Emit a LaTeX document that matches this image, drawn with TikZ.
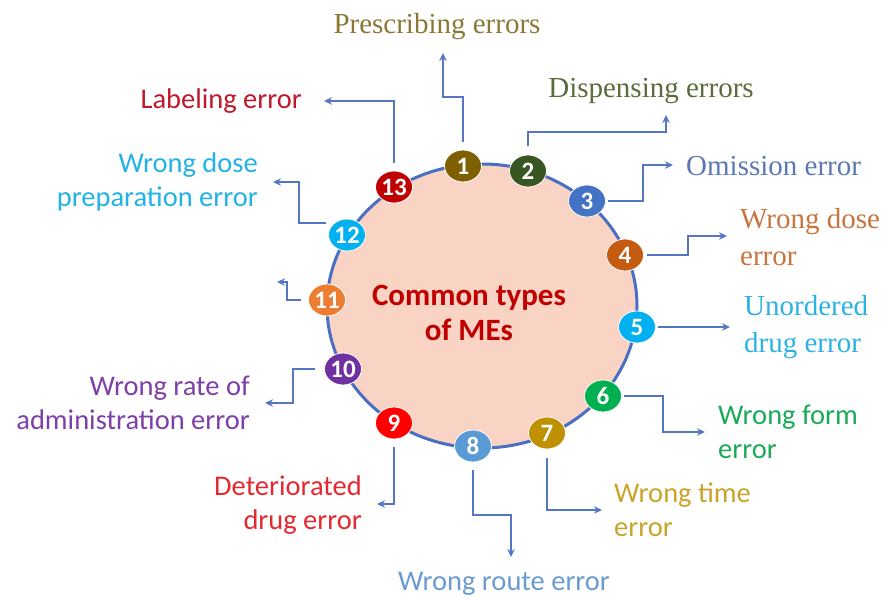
\documentclass[tikz,border=0pt]{standalone}
\usepackage{fontspec}
\setmainfont{Carlito}
\newfontfamily\serifface{Liberation Serif}
\usetikzlibrary{arrows.meta,shapes.geometric}
\definecolor{ringblue}{HTML}{4A6FC2}
\definecolor{lineblue}{HTML}{5576C4}
\definecolor{peach}{HTML}{F9D3C3}
\definecolor{cA}{HTML}{7F6000}
\definecolor{cB}{HTML}{375623}
\definecolor{cC}{HTML}{4472C4}
\definecolor{cD}{HTML}{C55A11}
\definecolor{cE}{HTML}{00B0F0}
\definecolor{cF}{HTML}{00B050}
\definecolor{cG}{HTML}{BF9000}
\definecolor{cH}{HTML}{5B9BD5}
\definecolor{cI}{HTML}{FF0000}
\definecolor{cJ}{HTML}{7030A0}
\definecolor{cK}{HTML}{ED7D31}
\definecolor{cL}{HTML}{00B0F0}
\definecolor{cM}{HTML}{C00000}
\definecolor{tA}{HTML}{8A7834}
\definecolor{tB}{HTML}{5A6B3C}
\definecolor{tC}{HTML}{5B78B2}
\definecolor{tD}{HTML}{C8743E}
\definecolor{tE}{HTML}{2CB2E2}
\definecolor{tF}{HTML}{1AAA58}
\definecolor{tG}{HTML}{C9A428}
\definecolor{tH}{HTML}{6A9BD0}
\definecolor{tI}{HTML}{E52830}
\definecolor{tJ}{HTML}{7E3FA8}
\definecolor{tL}{HTML}{22B2E6}
\definecolor{tM}{HTML}{C0182A}
\definecolor{ctr}{HTML}{C00000}
\begin{document}
\begin{tikzpicture}[x=1pt,y=-1pt,
  badge/.style={ellipse, minimum width=37pt, minimum height=32pt, inner sep=0pt,
    draw=white, line width=0.8pt,
    text=white, font=\fontsize{25}{25}\selectfont\bfseries},
  conn/.style={draw=lineblue, line width=2.1pt, -{Stealth[length=8pt,width=7.5pt]}},
  sanslab/.style={inner sep=0pt, font=\fontsize{28.5}{34}\selectfont},
  seriflab/.style={inner sep=0pt, font=\serifface\fontsize{29}{37}\selectfont},
  rlab/.style={anchor=west, align=left},
  llab/.style={anchor=east, align=right}]
\useasboundingbox (0,0) rectangle (883,598);
\node[ellipse, draw=ringblue, line width=3pt, fill=peach, minimum width=310pt,
  minimum height=284pt, inner sep=0pt] (ring) at (482,306) {};
\node[inner sep=0pt, align=center, text=ctr, font=\fontsize{31}{35}\selectfont\bfseries]
  (centre) at (469,313) {Common types\\of MEs};
% badges
\node[badge, fill=cA] (b1) at (463,166) {1};
\node[badge, fill=cB] (b2) at (528,171) {2};
\node[badge, fill=cC] (b3) at (587,201) {3};
\node[badge, fill=cD] (b4) at (625,255) {4};
\node[badge, fill=cE] (b5) at (637,327) {5};
\node[badge, fill=cF] (b6) at (603,396) {6};
\node[badge, fill=cG] (b7) at (547,433) {7};
\node[badge, fill=cH] (b8) at (473,446) {8};
\node[badge, fill=cI] (b9) at (394,423) {9};
\node[badge, fill=cJ] (b10) at (343,369) {10};
\node[badge, fill=cK] (b11) at (327,300) {11};
\node[badge, fill=cL] (b12) at (347,235) {12};
\node[badge, fill=cM] (b13) at (394,187) {13};
% labels
\node[seriflab, text=tA] (l1) at (437,27) {Prescribing errors};
\node[seriflab, text=tB] (l2) at (651,91) {Dispensing errors};
\node[seriflab, rlab, text=tC] (l3) at (686,166) {Omission error};
\node[seriflab, rlab, text=tD] (l4) at (740,237) {Wrong dose\\error};
\node[seriflab, rlab, text=tE] (l5) at (744,327) {Unordered\\drug error};
\node[sanslab, rlab, text=tF] (l6) at (718,432) {Wrong form\\error};
\node[sanslab, rlab, text=tG] (l7) at (614,510) {Wrong time\\error};
\node[sanslab, text=tH] (l8) at (504,584) {Wrong route error};
\node[sanslab, llab, text=tI] (l9) at (362,505) {Deteriorated\\drug error};
\node[sanslab, llab, text=tJ] (l10) at (250,403) {Wrong rate of\\administration error};
\node[sanslab, llab, text=tL] (l12) at (258,182) {Wrong dose\\preparation error};
\node[sanslab, llab, text=tM] (l13) at (302,101) {Labeling error};
% arrow tips
\coordinate (t1) at (443,53);
\coordinate (t2) at (666,115);
\coordinate (t3) at (673,165);
\coordinate (t4) at (727,236);
\coordinate (t5) at (730,327);
\coordinate (t6) at (705,432);
\coordinate (t7) at (602,510);
\coordinate (t8) at (511,557);
\coordinate (t9) at (377,504);
\coordinate (t10) at (265,403);
\coordinate (t11) at (277,282);
\coordinate (t12) at (273,182);
\coordinate (t13) at (324,101);
% connectors
\draw[conn, shorten <=8pt] (b1.north) |- (443,97) -- (t1);
\draw[conn, shorten <=9pt] (b2.north) |- (666,132) -- (t2);
\draw[conn, shorten <=2pt] (b3.east) -| (643,165) -- (t3);
\draw[conn, shorten <=3pt] (b4.east) -| (688,236) -- (t4);
\draw[conn, shorten <=2pt] (b5.east) -- (t5);
\draw[conn, shorten <=2pt] (b6.east) -| (663,432) -- (t6);
\draw[conn, shorten <=9pt] (b7.south) |- (t7);
\draw[conn, shorten <=8pt] (b8.south) |- (511,515) -- (t8);
\draw[conn, shorten <=8pt] (b9.south) |- (t9);
\draw[conn, shorten <=9pt] (b10.west) -| (293,403) -- (t10);
\draw[conn, shorten <=7pt] (b11.west) -| (287,282) -- (t11);
\draw[conn, shorten <=8pt] (b12.north west) -| (299,182) -- (t12);
\draw[conn, shorten <=8pt] (b13.north) |- (t13);
\end{tikzpicture}
\end{document}
